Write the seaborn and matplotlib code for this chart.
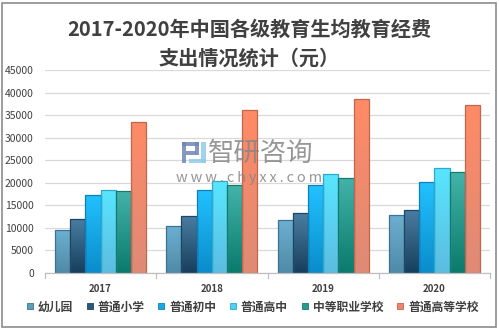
import numpy as np
import pandas as pd
import seaborn as sns
import matplotlib.pyplot as plt
from matplotlib.colors import LinearSegmentedColormap
from matplotlib.patches import Rectangle
from matplotlib.lines import Line2D

# Per-student education expenditure (yuan)
years = ['2017', '2018', '2019', '2020']
levels = ['幼儿园', '普通小学', '普通初中', '普通高中', '中等职业学校', '普通高等学校']
kindergarten = [9600, 10500, 11800, 12900]
primary = [12000, 12700, 13300, 14000]
junior_high = [17300, 18400, 19500, 20100]
senior_high = [18400, 20300, 21900, 23200]
vocational = [18200, 19500, 21100, 22300]
higher_ed = [33500, 36100, 38500, 37200]

series = [kindergarten, primary, junior_high, senior_high, vocational, higher_ed]
rows = []
for lvl, vals in zip(levels, series):
    for y, v in zip(years, vals):
        rows.append({'year': y, 'level': lvl, 'value': v})
df = pd.DataFrame(rows)

# top colour, bottom colour, edge colour for each level
grad = {
    '幼儿园': ('#6DB0D2', '#4F8AA6', '#3F7290'),
    '普通小学': ('#4B7EA2', '#163E5C', '#1E4563'),
    '普通初中': ('#22C2FF', '#0A8CCB', '#0E7FB8'),
    '普通高中': ('#58E6FF', '#5CBCE0', '#2FA8D0'),
    '中等职业学校': ('#44B4AA', '#0A7A6C', '#157A6E'),
    '普通高等学校': ('#FF8A66', '#DE8A76', '#C2674E'),
}
legend_col = {'幼儿园': '#5B9DBE', '普通小学': '#2B5878', '普通初中': '#17A8E8',
              '普通高中': '#4FD2F2', '中等职业学校': '#2A9A8C', '普通高等学校': '#F08668'}

sns.set_theme(style='white')
plt.rcParams['font.family'] = ['Noto Sans CJK SC', 'DejaVu Sans']

W, H = 499, 329
fig = plt.figure(figsize=(W / 100, H / 100), dpi=100)
ax = fig.add_axes([45 / W, 1 - 273 / H, 445 / W, 203 / H])

sns.barplot(data=df, x='year', y='value', hue='level', order=years,
            hue_order=levels, width=0.82, ax=ax, legend=False,
            palette=[legend_col[l] for l in levels], saturation=1)

ax.set_ylim(0, 45000)
ax.set_xlim(-0.5, 3.5)

# gradient fill clipped to each bar
for lvl, cont in zip(levels, ax.containers):
    top, bot, edge = grad[lvl]
    cmap = LinearSegmentedColormap.from_list(lvl, [bot, top])
    g = np.linspace(0, 1, 256).reshape(-1, 1)
    for p in cont.patches:
        x0, w, h = p.get_x(), p.get_width(), p.get_height()
        p.set_edgecolor(edge)
        p.set_linewidth(0.9)
        im = ax.imshow(g, cmap=cmap, origin='lower', aspect='auto',
                       extent=[x0, x0 + w, 0, h], zorder=p.get_zorder())
        im.set_clip_path(p)
        p.set_facecolor('none')
        p.set_zorder(p.get_zorder() + 0.1)
ax.set_xlim(-0.5, 3.5)
ax.set_ylim(0, 45000)
ax.set_aspect('auto')

ax.set_yticks(range(0, 45001, 5000))
ax.yaxis.grid(True, color='#D9D9D9', linewidth=0.9)
ax.set_axisbelow(True)
for s in ['top', 'right', 'left']:
    ax.spines[s].set_visible(False)
ax.spines['bottom'].set_color('#BFBFBF')
ax.spines['bottom'].set_linewidth(0.9)

ax.set_xlabel('')
ax.set_ylabel('')
ax.tick_params(axis='y', length=0, labelsize=7.5, labelcolor='#404040', pad=8)
ax.set_xticks(range(4))
ax.set_xticklabels(years, fontsize=7, color='#404040', fontweight='bold')
ax.tick_params(axis='x', length=0, pad=8)
for b in [-0.5, 0.5, 1.5, 2.5, 3.5]:
    ax.plot([b, b], [0, -1100], color='#BFBFBF', lw=0.9, clip_on=False)

fig.text(0.5, 1 - 29 / H, '2017-2020年中国各级教育生均教育经费', ha='center', va='center',
         fontsize=14.5, fontweight='bold', color='#404040')
fig.text(0.5, 1 - 58 / H, '支出情况统计（元）', ha='center', va='center',
         fontsize=14.5, fontweight='bold', color='#404040')

# watermark: logo blocks and text
def px_rect(x0, y0, x1, y1, color):
    fig.patches.append(Rectangle((x0 / W, 1 - y1 / H), (x1 - x0) / W, (y1 - y0) / H,
                                 transform=fig.transFigure, facecolor=color,
                                 edgecolor='none', alpha=0.85, zorder=10))

slate, sky = '#7086B4', '#92CBEA'
px_rect(182, 142, 199, 146, slate)
px_rect(182, 142, 186, 163, slate)
px_rect(186, 151, 196, 155, slate)
px_rect(195, 142, 199, 155, slate)
px_rect(201, 142, 206, 163, sky)
px_rect(189, 159, 206, 163, sky)

fig.text(261 / W, 1 - 153 / H, '智研咨询', ha='center', va='center', fontsize=19,
         color='#858585', alpha=0.85, zorder=10)
fig.text(249 / W, 1 - 178 / H, '\u2009'.join('www.chyxx.com'), ha='center', va='center',
         fontsize=10.5, color='#858585', alpha=0.85, zorder=10)

handles = [Line2D([], [], marker='s', linestyle='none', markersize=5,
                  markerfacecolor=legend_col[l], markeredgecolor=grad[l][2],
                  markeredgewidth=0.6) for l in levels]
leg = fig.legend(handles, levels, loc='center', bbox_to_anchor=(0.505, 1 - 307 / H),
                 ncol=6, frameon=False, handlelength=0.7, handletextpad=0.3,
                 columnspacing=1.1, prop={'size': 8.5, 'weight': 'bold'})
for t in leg.get_texts():
    t.set_color('#404040')

fig.patches.append(Rectangle((2 / W, 2 / H), (W - 5) / W, (H - 5) / H,
                             transform=fig.transFigure, fill=False,
                             edgecolor='#8C8C8C', linewidth=1.2))

fig.savefig('out.png', dpi=100)
